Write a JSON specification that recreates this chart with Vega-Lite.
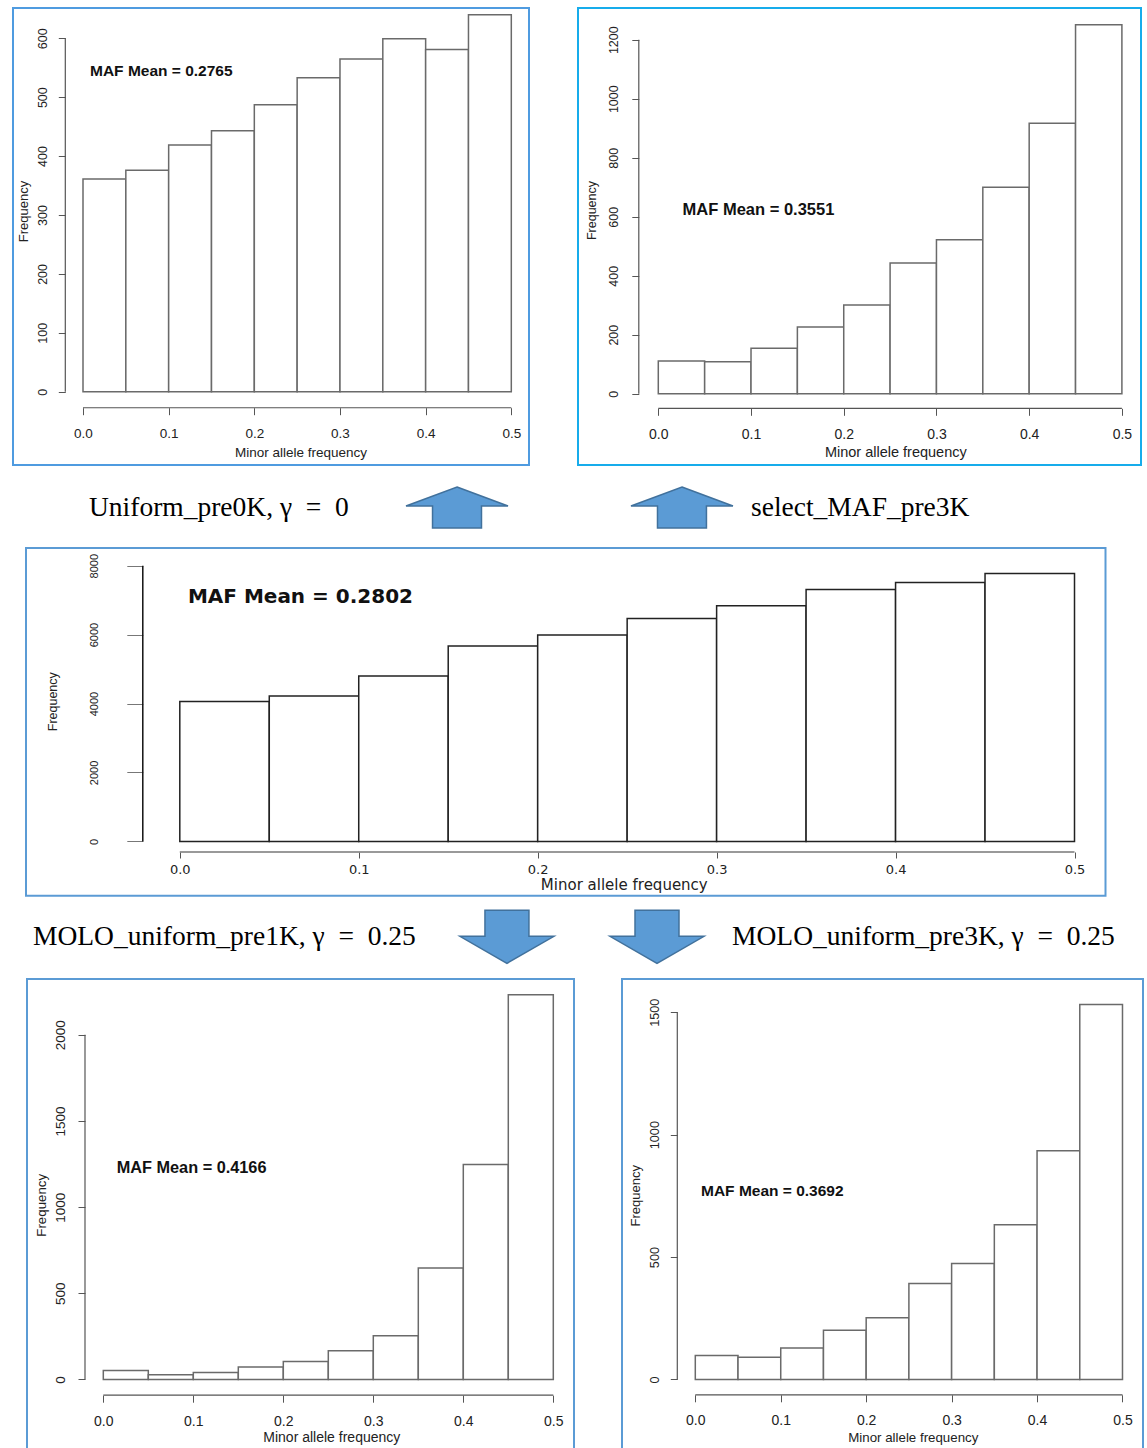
{
  "$schema": "https://vega.github.io/schema/vega-lite/v6.json",
  "padding": {"left": 12, "top": 7, "right": 0, "bottom": 0},
  "spacing": 0,
  "config": {"view": {"stroke": null}, "font": "Liberation Sans", "axis": {"grid": false}},
  "datasets": {
    "p1": [{"lo":0,"hi":0.05,"n":361},{"lo":0.05,"hi":0.1,"n":376},{"lo":0.1,"hi":0.15,"n":419},{"lo":0.15,"hi":0.2,"n":443},{"lo":0.2,"hi":0.25,"n":487},{"lo":0.25,"hi":0.3,"n":533},{"lo":0.3,"hi":0.35,"n":565},{"lo":0.35,"hi":0.4,"n":599},{"lo":0.4,"hi":0.45,"n":581},{"lo":0.45,"hi":0.5,"n":640}],
    "p2": [{"lo":0,"hi":0.05,"n":111},{"lo":0.05,"hi":0.1,"n":108},{"lo":0.1,"hi":0.15,"n":154},{"lo":0.15,"hi":0.2,"n":226},{"lo":0.2,"hi":0.25,"n":301},{"lo":0.25,"hi":0.3,"n":443},{"lo":0.3,"hi":0.35,"n":522},{"lo":0.35,"hi":0.4,"n":700},{"lo":0.4,"hi":0.45,"n":917},{"lo":0.45,"hi":0.5,"n":1251}],
    "p3": [{"lo":0,"hi":0.05,"n":4063},{"lo":0.05,"hi":0.1,"n":4219},{"lo":0.1,"hi":0.15,"n":4800},{"lo":0.15,"hi":0.2,"n":5670},{"lo":0.2,"hi":0.25,"n":5989},{"lo":0.25,"hi":0.3,"n":6471},{"lo":0.3,"hi":0.35,"n":6840},{"lo":0.35,"hi":0.4,"n":7313},{"lo":0.4,"hi":0.45,"n":7516},{"lo":0.45,"hi":0.5,"n":7777}],
    "p4": [{"lo":0,"hi":0.05,"n":52},{"lo":0.05,"hi":0.1,"n":27},{"lo":0.1,"hi":0.15,"n":41},{"lo":0.15,"hi":0.2,"n":72},{"lo":0.2,"hi":0.25,"n":105},{"lo":0.25,"hi":0.3,"n":167},{"lo":0.3,"hi":0.35,"n":254},{"lo":0.35,"hi":0.4,"n":647},{"lo":0.4,"hi":0.45,"n":1247},{"lo":0.45,"hi":0.5,"n":2232}],
    "p5": [{"lo":0,"hi":0.05,"n":98},{"lo":0.05,"hi":0.1,"n":91},{"lo":0.1,"hi":0.15,"n":129},{"lo":0.15,"hi":0.2,"n":201},{"lo":0.2,"hi":0.25,"n":252},{"lo":0.25,"hi":0.3,"n":392},{"lo":0.3,"hi":0.35,"n":474},{"lo":0.35,"hi":0.4,"n":632},{"lo":0.4,"hi":0.45,"n":934},{"lo":0.45,"hi":0.5,"n":1531}]
  },
  "vconcat": [
    {
      "hconcat": [
        {
          "width": 516, "height": 457,
          "view": {"stroke": "#4F9BE0", "strokeWidth": 2},
          "layer": [
            {
              "data": {"name": "p1"},
              "mark": {"type": "rect", "fill": "white", "stroke": "#6a6a6a", "strokeWidth": 1.5},
              "encoding": {
                "x": {"field": "lo", "type": "quantitative", "scale": {"domain": [-0.08172, 0.52066], "nice": false, "zero": false},
                  "axis": {"values": [0,0.1,0.2,0.3,0.4,0.5], "format": ".1f", "offset": -57.3, "domain": false, "tickSize": 7, "tickColor": "#555", "labelPadding": 11.5, "labelFontSize": 13.5, "labelColor": "#222", "labelFlush": false, "labelOverlap": false,
                    "title": "Minor allele frequency", "titleFontSize": 13.5, "titleFontWeight": "normal", "titleColor": "#222", "titleX": 287.5, "titleY": 45, "titleBaseline": "middle", "titleAlign": "center"}},
                "x2": {"field": "hi"},
                "y": {"field": "n", "type": "quantitative", "scale": {"domain": [-124.4, 651.4], "nice": false, "zero": false},
                  "axis": {"values": [0,100,200,300,400,500,600], "format": "d", "offset": -52.3, "domain": false, "tickSize": 7, "tickColor": "#555", "labelAngle": -90, "labelAlign": "center", "labelBaseline": "bottom", "labelPadding": 9.2, "labelFontSize": 12.5, "labelColor": "#222", "labelFlush": false, "labelOverlap": false,
                    "title": "Frequency", "titleFontSize": 13, "titleFontWeight": "normal", "titleColor": "#222", "titleAngle": -90, "titleX": -41.8, "titleY": 203, "titleBaseline": "middle", "titleAlign": "center"}},
                "y2": {"datum": 0}
              }
            },
            {
              "data": {"values": [{"k": 1}]},
              "mark": {"type": "rule", "color": "#555", "strokeWidth": 1.2},
              "encoding": {"x": {"datum": -0.02066, "type": "quantitative"}, "y": {"datum": 0, "type": "quantitative"}, "y2": {"datum": 600}}
            },
            {
              "data": {"values": [{"k": 1}]},
              "mark": {"type": "rule", "color": "#555", "strokeWidth": 1.2},
              "encoding": {"y": {"datum": -27.2, "type": "quantitative"}, "x": {"datum": 0, "type": "quantitative"}, "x2": {"datum": 0.5}}
            },
            {
              "data": {"values": [{"label": "MAF Mean = 0.2765"}]},
              "mark": {"type": "text", "align": "left", "baseline": "middle", "fontWeight": "bold", "fontSize": 15.5, "color": "#111"},
              "encoding": {"x": {"datum": 0.00817, "type": "quantitative"}, "y": {"datum": 544.5, "type": "quantitative"}, "text": {"field": "label"}}
            }
          ]
        },
        {
          "width": 563, "height": 457,
          "view": {"stroke": "#17ACEB", "strokeWidth": 2},
          "layer": [
            {
              "data": {"name": "p2"},
              "mark": {"type": "rect", "fill": "white", "stroke": "#6a6a6a", "strokeWidth": 1.5},
              "encoding": {
                "x": {"field": "lo", "type": "quantitative", "scale": {"domain": [-0.0866, 0.5206], "nice": false, "zero": false},
                  "axis": {"values": [0,0.1,0.2,0.3,0.4,0.5], "format": ".1f", "offset": -56.7, "domain": false, "tickSize": 7, "tickColor": "#555", "labelPadding": 11.7, "labelFontSize": 14, "labelColor": "#222", "labelFlush": false, "labelOverlap": false,
                    "title": "Minor allele frequency", "titleFontSize": 14.5, "titleFontWeight": "normal", "titleColor": "#222", "titleX": 317.3, "titleY": 44.4, "titleBaseline": "middle", "titleAlign": "center"}},
                "x2": {"field": "hi"},
                "y": {"field": "n", "type": "quantitative", "scale": {"domain": [-241.7, 1307.5], "nice": false, "zero": false},
                  "axis": {"values": [0,200,400,600,800,1000,1200], "format": "d", "offset": -60.8, "domain": false, "tickSize": 7, "tickColor": "#555", "labelAngle": -90, "labelAlign": "center", "labelBaseline": "bottom", "labelPadding": 11.3, "labelFontSize": 12.5, "labelColor": "#222", "labelFlush": false, "labelOverlap": false,
                    "title": "Frequency", "titleFontSize": 12.5, "titleFontWeight": "normal", "titleColor": "#222", "titleAngle": -90, "titleX": -47.8, "titleY": 202, "titleBaseline": "middle", "titleAlign": "center"}},
                "y2": {"datum": 0}
              }
            },
            {
              "data": {"values": [{"k": 1}]},
              "mark": {"type": "rule", "color": "#555", "strokeWidth": 1.2},
              "encoding": {"x": {"datum": -0.02103, "type": "quantitative"}, "y": {"datum": 0, "type": "quantitative"}, "y2": {"datum": 1200}}
            },
            {
              "data": {"values": [{"k": 1}]},
              "mark": {"type": "rule", "color": "#555", "strokeWidth": 1.2},
              "encoding": {"y": {"datum": -49.5, "type": "quantitative"}, "x": {"datum": 0, "type": "quantitative"}, "x2": {"datum": 0.5}}
            },
            {
              "data": {"values": [{"label": "MAF Mean = 0.3551"}]},
              "mark": {"type": "text", "align": "left", "baseline": "middle", "fontWeight": "bold", "fontSize": 16.5, "color": "#111"},
              "encoding": {"x": {"datum": 0.0262, "type": "quantitative"}, "y": {"datum": 621.7, "type": "quantitative"}, "text": {"field": "label"}}
            }
          ]
        }
      ],
      "spacing": 47
    },
    {
      "width": 1135, "height": 81,
      "layer": [
        {
          "data": {"values": [{"label": "Uniform_pre0K, γ\u2002=\u20020"}]},
          "mark": {"type": "text", "align": "left", "baseline": "middle", "font": "Liberation Serif", "fontSize": 27.5, "color": "#000"},
          "encoding": {"x": {"datum": 6.696, "type": "quantitative", "scale": {"domain": [0, 100], "nice": false, "zero": false}, "axis": null}, "y": {"datum": 51.85, "type": "quantitative", "scale": {"domain": [0, 100], "reverse": true, "nice": false}, "axis": null}, "text": {"field": "label"}}
        },
        {
          "data": {"values": [{"label": "select_MAF_pre3K"}]},
          "mark": {"type": "text", "align": "left", "baseline": "middle", "font": "Liberation Serif", "fontSize": 27.5, "color": "#000"},
          "encoding": {"x": {"datum": 65.02, "type": "quantitative"}, "y": {"datum": 51.85, "type": "quantitative"}, "text": {"field": "label"}}
        },
        {
          "data": {"values": [{"arrow": "up"}]},
          "mark": {"type": "point", "shape": "M0,-0.402 L1,-0.029 L0.48,-0.029 L0.48,0.402 L-0.48,0.402 L-0.48,-0.029 L-1,-0.029 Z", "size": 10404, "filled": true, "fill": "#5B9BD5", "stroke": "#41719C", "strokeWidth": 1.5, "opacity": 1},
          "encoding": {"x": {"datum": 39.12, "type": "quantitative"}, "y": {"datum": 51.2, "type": "quantitative"}}
        },
        {
          "data": {"values": [{"arrow": "up"}]},
          "mark": {"type": "point", "shape": "M0,-0.402 L1,-0.029 L0.48,-0.029 L0.48,0.402 L-0.48,0.402 L-0.48,-0.029 L-1,-0.029 Z", "size": 10404, "filled": true, "fill": "#5B9BD5", "stroke": "#41719C", "strokeWidth": 1.5, "opacity": 1},
          "encoding": {"x": {"datum": 58.94, "type": "quantitative"}, "y": {"datum": 51.2, "type": "quantitative"}}
        }
      ]
    },
    {
      "hconcat": [
        {"width": 12, "height": 10, "data": {"values": [{}]}, "mark": {"type": "text", "text": ""}},
        {
          "width": 1079.5, "height": 347.7,
          "view": {"stroke": "#5B9BD5", "strokeWidth": 2},
          "layer": [
            {
              "data": {"name": "p3"},
              "mark": {"type": "rect", "fill": "white", "stroke": "#222", "strokeWidth": 1.5},
              "encoding": {
                "x": {"field": "lo", "type": "quantitative", "scale": {"domain": [-0.08595, 0.51732], "nice": false, "zero": false},
                  "axis": {"values": [0,0.1,0.2,0.3,0.4,0.5], "format": ".1f", "offset": -43.7, "domain": false, "tickSize": 6, "tickColor": "#555", "labelPadding": 5, "labelFont": "DejaVu Sans", "labelFontSize": 13, "labelColor": "#222", "labelFlush": false, "labelOverlap": false,
                    "title": "Minor allele frequency", "titleFont": "DejaVu Sans", "titleFontSize": 15, "titleFontWeight": "normal", "titleColor": "#222", "titleX": 597.8, "titleY": 32.5, "titleBaseline": "middle", "titleAlign": "center"}},
                "x2": {"field": "hi"},
                "y": {"field": "n", "type": "quantitative", "scale": {"domain": [-1575.6, 8513.6], "nice": false, "zero": false},
                  "axis": {"values": [0,2000,4000,6000,8000], "format": "d", "offset": -116.8, "domain": false, "tickSize": 16, "tickColor": "#777", "labelAngle": -90, "labelAlign": "center", "labelBaseline": "bottom", "labelPadding": 27, "labelFontSize": 11, "labelColor": "#222", "labelFlush": false, "labelOverlap": false,
                    "title": "Frequency", "titleFontSize": 12.5, "titleFontWeight": "normal", "titleColor": "#222", "titleAngle": -90, "titleX": -90.3, "titleY": 153.2, "titleBaseline": "middle", "titleAlign": "center"}},
                "y2": {"datum": 0}
              }
            },
            {
              "data": {"values": [{"k": 1}]},
              "mark": {"type": "rule", "color": "#111", "strokeWidth": 1.5},
              "encoding": {"x": {"datum": -0.02068, "type": "quantitative"}, "y": {"datum": 0, "type": "quantitative"}, "y2": {"datum": 8000}}
            },
            {
              "data": {"values": [{"k": 1}]},
              "mark": {"type": "rule", "color": "#777", "strokeWidth": 1.5},
              "encoding": {"y": {"datum": -307.6, "type": "quantitative"}, "x": {"datum": 0, "type": "quantitative"}, "x2": {"datum": 0.5}}
            },
            {
              "data": {"values": [{"label": "MAF Mean = 0.2802"}]},
              "mark": {"type": "text", "align": "left", "baseline": "middle", "font": "DejaVu Sans", "fontWeight": "bold", "fontSize": 20, "color": "#111"},
              "encoding": {"x": {"datum": 0.00453, "type": "quantitative"}, "y": {"datum": 7092, "type": "quantitative"}, "text": {"field": "label"}}
            }
          ]
        }
      ],
      "spacing": 0
    },
    {
      "width": 1135, "height": 80.3,
      "layer": [
        {
          "data": {"values": [{"label": "MOLO_uniform_pre1K, γ\u2002=\u20020.25"}]},
          "mark": {"type": "text", "align": "left", "baseline": "middle", "font": "Liberation Serif", "fontSize": 27.5, "color": "#000"},
          "encoding": {"x": {"datum": 1.762, "type": "quantitative", "scale": {"domain": [0, 100], "nice": false, "zero": false}, "axis": null}, "y": {"datum": 50.2, "type": "quantitative", "scale": {"domain": [0, 100], "reverse": true, "nice": false}, "axis": null}, "text": {"field": "label"}}
        },
        {
          "data": {"values": [{"label": "MOLO_uniform_pre3K, γ\u2002=\u20020.25"}]},
          "mark": {"type": "text", "align": "left", "baseline": "middle", "font": "Liberation Serif", "fontSize": 27.5, "color": "#000"},
          "encoding": {"x": {"datum": 63.35, "type": "quantitative"}, "y": {"datum": 50.2, "type": "quantitative"}, "text": {"field": "label"}}
        },
        {
          "data": {"values": [{"arrow": "down"}]},
          "mark": {"type": "point", "shape": "M-0.468,-0.564 L0.468,-0.564 L0.468,-0.01 L1,-0.01 L0,0.564 L-1,-0.01 L-0.468,-0.01 Z", "size": 8836, "filled": true, "fill": "#5B9BD5", "stroke": "#41719C", "strokeWidth": 1.5, "opacity": 1},
          "encoding": {"x": {"datum": 43.52, "type": "quantitative"}, "y": {"datum": 49.56, "type": "quantitative"}}
        },
        {
          "data": {"values": [{"arrow": "down"}]},
          "mark": {"type": "point", "shape": "M-0.468,-0.564 L0.468,-0.564 L0.468,-0.01 L1,-0.01 L0,0.564 L-1,-0.01 L-0.468,-0.01 Z", "size": 8836, "filled": true, "fill": "#5B9BD5", "stroke": "#41719C", "strokeWidth": 1.5, "opacity": 1},
          "encoding": {"x": {"datum": 56.74, "type": "quantitative"}, "y": {"datum": 49.56, "type": "quantitative"}}
        }
      ]
    },
    {
      "hconcat": [
        {"width": 13, "height": 10, "data": {"values": [{}]}, "mark": {"type": "text", "text": ""}},
        {
          "hconcat": [
            {
              "width": 547, "height": 472,
              "view": {"stroke": "#5B9BD5", "strokeWidth": 2},
              "layer": [
                {
                  "data": {"name": "p4"},
                  "mark": {"type": "rect", "fill": "white", "stroke": "#6a6a6a", "strokeWidth": 1.5},
                  "encoding": {
                    "x": {"field": "lo", "type": "quantitative", "scale": {"domain": [-0.08478, 0.523], "nice": false, "zero": false},
                      "axis": {"values": [0,0.1,0.2,0.3,0.4,0.5], "format": ".1f", "offset": -55.8, "domain": false, "tickSize": 7, "tickColor": "#555", "labelPadding": 12, "labelFontSize": 14, "labelColor": "#222", "labelFlush": false, "labelOverlap": false,
                        "title": "Minor allele frequency", "titleFontSize": 14, "titleFontWeight": "normal", "titleColor": "#222", "titleX": 304.3, "titleY": 42.6, "titleBaseline": "middle", "titleAlign": "center"}},
                    "x2": {"field": "hi"},
                    "y": {"field": "n", "type": "quantitative", "scale": {"domain": [-414.9, 2323.8], "nice": false, "zero": false},
                      "axis": {"values": [0,500,1000,1500,2000], "format": "d", "offset": -58, "domain": false, "tickSize": 7, "tickColor": "#555", "labelAngle": -90, "labelAlign": "center", "labelBaseline": "bottom", "labelPadding": 11, "labelFontSize": 13.5, "labelColor": "#222", "labelFlush": false, "labelOverlap": false,
                        "title": "Frequency", "titleFontSize": 13.3, "titleFontWeight": "normal", "titleColor": "#222", "titleAngle": -90, "titleX": -43.6, "titleY": 225.8, "titleBaseline": "middle", "titleAlign": "center"}},
                    "y2": {"datum": 0}
                  }
                },
                {
                  "data": {"values": [{"k": 1}]},
                  "mark": {"type": "rule", "color": "#555", "strokeWidth": 1.2},
                  "encoding": {"x": {"datum": -0.02034, "type": "quantitative"}, "y": {"datum": 0, "type": "quantitative"}, "y2": {"datum": 2000}}
                },
                {
                  "data": {"values": [{"k": 1}]},
                  "mark": {"type": "rule", "color": "#555", "strokeWidth": 1.2},
                  "encoding": {"y": {"datum": -91.1, "type": "quantitative"}, "x": {"datum": 0, "type": "quantitative"}, "x2": {"datum": 0.5}}
                },
                {
                  "data": {"values": [{"label": "MAF Mean = 0.4166"}]},
                  "mark": {"type": "text", "align": "left", "baseline": "middle", "fontWeight": "bold", "fontSize": 16.3, "color": "#111"},
                  "encoding": {"x": {"datum": 0.01489, "type": "quantitative"}, "y": {"datum": 1228.3, "type": "quantitative"}, "text": {"field": "label"}}
                }
              ]
            },
            {
              "width": 521, "height": 472,
              "view": {"stroke": "#5B9BD5", "strokeWidth": 2},
              "layer": [
                {
                  "data": {"name": "p5"},
                  "mark": {"type": "rect", "fill": "white", "stroke": "#6a6a6a", "strokeWidth": 1.5},
                  "encoding": {
                    "x": {"field": "lo", "type": "quantitative", "scale": {"domain": [-0.08579, 0.524], "nice": false, "zero": false},
                      "axis": {"values": [0,0.1,0.2,0.3,0.4,0.5], "format": ".1f", "offset": -56.2, "domain": false, "tickSize": 7, "tickColor": "#555", "labelPadding": 11.7, "labelFontSize": 14, "labelColor": "#222", "labelFlush": false, "labelOverlap": false,
                        "title": "Minor allele frequency", "titleFontSize": 13.3, "titleFontWeight": "normal", "titleColor": "#222", "titleX": 290.8, "titleY": 43, "titleBaseline": "middle", "titleAlign": "center"}},
                    "x2": {"field": "hi"},
                    "y": {"field": "n", "type": "quantitative", "scale": {"domain": [-292, 1635.6], "nice": false, "zero": false},
                      "axis": {"values": [0,500,1000,1500], "format": "d", "offset": -55.3, "domain": false, "tickSize": 7, "tickColor": "#555", "labelAngle": -90, "labelAlign": "center", "labelBaseline": "bottom", "labelPadding": 8.6, "labelFontSize": 12.7, "labelColor": "#222", "labelFlush": false, "labelOverlap": false,
                        "title": "Frequency", "titleFontSize": 13, "titleFontWeight": "normal", "titleColor": "#222", "titleAngle": -90, "titleX": -41.4, "titleY": 216.3, "titleBaseline": "middle", "titleAlign": "center"}},
                    "y2": {"datum": 0}
                  }
                },
                {
                  "data": {"values": [{"k": 1}]},
                  "mark": {"type": "rule", "color": "#555", "strokeWidth": 1.2},
                  "encoding": {"x": {"datum": -0.02107, "type": "quantitative"}, "y": {"datum": 0, "type": "quantitative"}, "y2": {"datum": 1500}}
                },
                {
                  "data": {"values": [{"k": 1}]},
                  "mark": {"type": "rule", "color": "#555", "strokeWidth": 1.2},
                  "encoding": {"y": {"datum": -62.5, "type": "quantitative"}, "x": {"datum": 0, "type": "quantitative"}, "x2": {"datum": 0.5}}
                },
                {
                  "data": {"values": [{"label": "MAF Mean = 0.3692"}]},
                  "mark": {"type": "text", "align": "left", "baseline": "middle", "fontWeight": "bold", "fontSize": 15.5, "color": "#111"},
                  "encoding": {"x": {"datum": 0.00667, "type": "quantitative"}, "y": {"datum": 771.8, "type": "quantitative"}, "text": {"field": "label"}}
                }
              ]
            }
          ],
          "spacing": 46
        }
      ],
      "spacing": 0
    }
  ]
}
